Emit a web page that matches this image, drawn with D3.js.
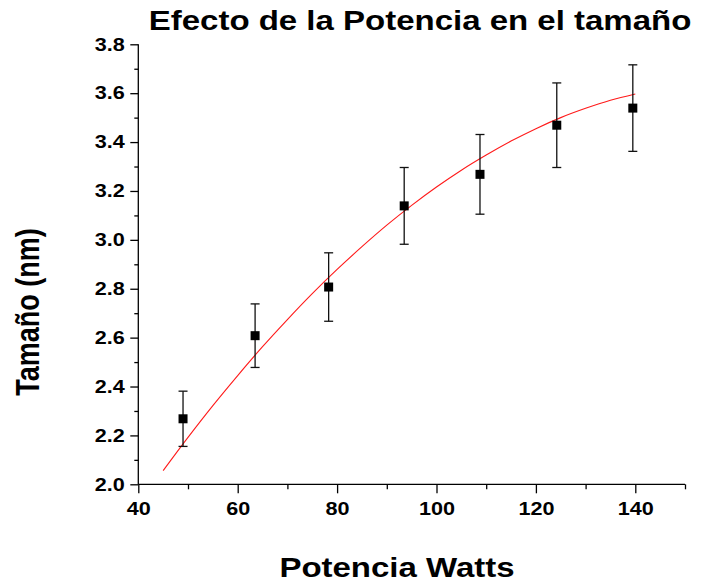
<!DOCTYPE html>
<html><head><meta charset="utf-8">
<script src="https://cdn.jsdelivr.net/npm/d3@7"></script>
<style>html,body{margin:0;padding:0;background:#fff;}svg{display:block;font-family:"Liberation Sans",Arial,sans-serif;}</style>
</head><body>
<script>
// ---- data ----
const power = [49, 63.5, 78.3, 93.5, 108.75, 124.2, 139.5];
const size = [2.268, 2.608, 2.807, 3.139, 3.268, 3.469, 3.539];
const sizeErr = [0.113, 0.13, 0.14, 0.157, 0.163, 0.173, 0.177];
const fitX = [45, 50, 55, 60, 65, 70, 75, 80, 85, 90, 95, 100, 105, 110, 115, 120, 125, 130, 135, 140];
const fitY = [2.056, 2.192, 2.322, 2.445, 2.563, 2.674, 2.780, 2.879, 2.972, 3.060, 3.141, 3.216, 3.285, 3.347, 3.404, 3.455, 3.500, 3.538, 3.571, 3.597];
const xMajor = [40, 60, 80, 100, 120, 140];
const xMinor = [50, 70, 90, 110, 130, 150];
const yMajor = [2.0, 2.2, 2.4, 2.6, 2.8, 3.0, 3.2, 3.4, 3.6, 3.8];
const yMinor = [2.1, 2.3, 2.5, 2.7, 2.9, 3.1, 3.3, 3.5, 3.7];
const title = "Efecto de la Potencia en el tamaño";
const xTitle = "Potencia Watts";
const yTitle = "Tamaño (nm)";

const W = 704, H = 581;
const SX = 1.2; // horizontal stretch of the text in the reference
const svg = d3.select("body").append("svg").attr("width", W).attr("height", H);
const x = d3.scaleLinear().domain([40, 150]).range([138.3, 685]);
const y = d3.scaleLinear().domain([2.0, 3.8]).range([484.3, 44.3]);

function styleAxis(g){
  g.select(".domain").remove();
  g.selectAll("line").attr("stroke","#000").attr("stroke-width",1.3);
  g.selectAll("text").attr("font-size","18px").attr("font-weight","bold").attr("fill","#000");
}
// x axis
const gx = svg.append("g").attr("transform",`translate(0,${y(2.0)})`);
gx.append("line").attr("x1",x(40)).attr("x2",x(150)).attr("stroke","#000").attr("stroke-width",1.3);
const gxMaj = gx.append("g").call(d3.axisBottom(x).tickValues(xMajor).tickSize(9).tickPadding(9).tickFormat(d3.format("d")));
styleAxis(gxMaj);
gxMaj.selectAll("text").attr("transform",`scale(${SX},1)`);
const gxMin = gx.append("g").call(d3.axisBottom(x).tickValues(xMinor).tickSize(5).tickFormat(""));
styleAxis(gxMin);

// y axis
const gy = svg.append("g").attr("transform",`translate(${x(40)},0)`);
gy.append("line").attr("y1",y(2.0)).attr("y2",y(3.8)).attr("stroke","#000").attr("stroke-width",1.3);
const gyMaj = gy.append("g").call(d3.axisLeft(y).tickValues(yMajor).tickSize(8).tickPadding(5).tickFormat(d3.format(".1f")));
styleAxis(gyMaj);
gyMaj.selectAll("text").attr("x", -13.5/SX).attr("transform",`scale(${SX},1)`);
const gyMin = gy.append("g").call(d3.axisLeft(y).tickValues(yMinor).tickSize(4).tickFormat(""));
styleAxis(gyMin);

// fit curve
svg.append("path")
  .datum(fitX.map((v,i)=>[v, fitY[i]]))
  .attr("fill","none").attr("stroke","#ff1a1a").attr("stroke-width",1.1)
  .attr("d", d3.line().x(d=>x(d[0])).y(d=>y(d[1])).curve(d3.curveMonotoneX));

// error bars
const pts = power.map((p,i)=>({p, s:size[i], e:sizeErr[i]}));
const eb = svg.append("g").attr("stroke","#111").attr("stroke-width",1.3);
eb.selectAll(".v").data(pts).join("line")
  .attr("x1",d=>x(d.p)).attr("x2",d=>x(d.p)).attr("y1",d=>y(d.s+d.e)).attr("y2",d=>y(d.s-d.e));
eb.selectAll(".t").data(pts).join("line")
  .attr("x1",d=>x(d.p)-4.5).attr("x2",d=>x(d.p)+4.5).attr("y1",d=>y(d.s+d.e)).attr("y2",d=>y(d.s+d.e));
eb.selectAll(".b").data(pts).join("line")
  .attr("x1",d=>x(d.p)-4.5).attr("x2",d=>x(d.p)+4.5).attr("y1",d=>y(d.s-d.e)).attr("y2",d=>y(d.s-d.e));

// markers
svg.append("g").selectAll("rect").data(pts).join("rect")
  .attr("x",d=>x(d.p)-4.5).attr("y",d=>y(d.s)-4.5).attr("width",9).attr("height",9).attr("fill","#000");

// titles
svg.append("text").attr("transform",`translate(420,30) scale(${SX},1)`).attr("text-anchor","middle")
  .attr("font-size","27.5px").attr("font-weight","bold").text(title);
svg.append("text").attr("transform",`translate(397,577) scale(${SX},1)`).attr("text-anchor","middle")
  .attr("font-size","27.5px").attr("font-weight","bold").text(xTitle);
svg.append("text").attr("transform",`translate(38.5,312) scale(${SX},1) rotate(-90)`).attr("text-anchor","middle")
  .attr("font-size","27px").attr("font-weight","bold").text(yTitle);
</script>
</body></html>
